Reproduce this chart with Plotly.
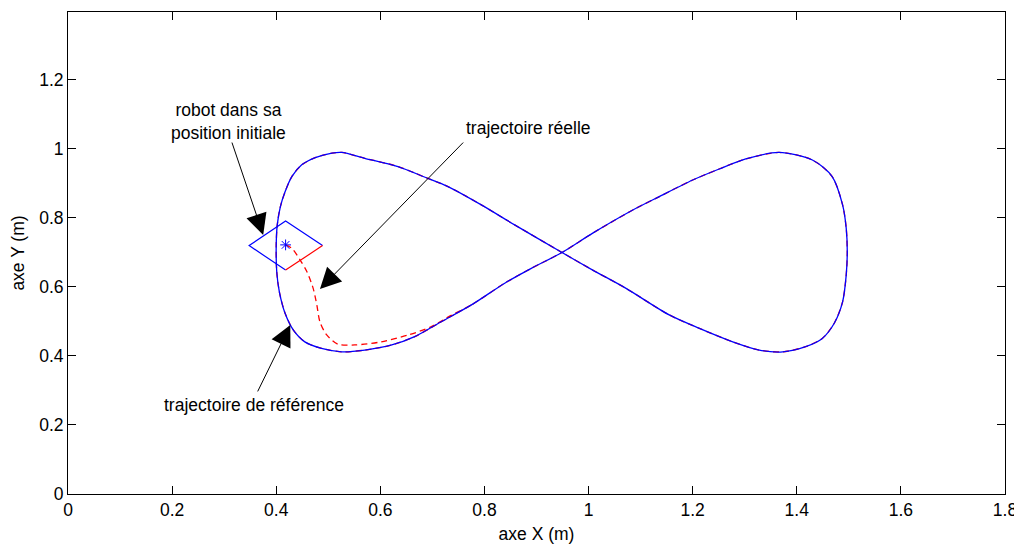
import plotly.graph_objects as go

# Reference trajectory (figure eight)
ref_x = [0.949, 0.858, 0.794, 0.730, 0.686, 0.634, 0.570, 0.526, 0.507, 0.475, 0.449, 0.430,
         0.417, 0.408, 0.402, 0.400, 0.401, 0.406, 0.417, 0.433, 0.455, 0.487, 0.526, 0.570,
         0.622, 0.666, 0.718, 0.775, 0.839, 0.890, 0.949, 1.008, 1.085, 1.136, 1.200, 1.251,
         1.302, 1.366, 1.430, 1.468, 1.488, 1.495, 1.497, 1.495, 1.488, 1.472, 1.449, 1.417,
         1.373, 1.328, 1.277, 1.213, 1.155, 1.072, 1.008, 0.949]
ref_y = [0.700, 0.780, 0.838, 0.891, 0.918, 0.949, 0.973, 0.990, 0.988, 0.975, 0.954, 0.920,
         0.876, 0.833, 0.780, 0.722, 0.644, 0.586, 0.524, 0.475, 0.441, 0.422, 0.412, 0.417,
         0.432, 0.456, 0.500, 0.548, 0.611, 0.654, 0.700, 0.756, 0.823, 0.862, 0.910, 0.942,
         0.971, 0.990, 0.968, 0.920, 0.838, 0.770, 0.702, 0.635, 0.557, 0.495, 0.451, 0.427,
         0.412, 0.417, 0.441, 0.480, 0.519, 0.596, 0.649, 0.700]

# Real trajectory: start from robot position, then joins the reference loop
start_x = [0.418, 0.430, 0.446, 0.459, 0.471, 0.478, 0.484, 0.497, 0.519, 0.551, 0.602,
           0.654, 0.698, 0.735]
start_y = [0.722, 0.712, 0.678, 0.644, 0.596, 0.548, 0.499, 0.461, 0.434, 0.432, 0.441,
           0.461, 0.485, 0.517]

# Robot body (diamond) vertices: left, top, right, bottom
robot_x = [0.348, 0.418, 0.489, 0.418]
robot_y = [0.720, 0.791, 0.720, 0.649]
robot_center = (0.418, 0.722)

x_ticks = [0, 0.2, 0.4, 0.6, 0.8, 1, 1.2, 1.4, 1.6, 1.8]
x_labels = ["0", "0.2", "0.4", "0.6", "0.8", "1", "1.2", "1.4", "1.6", "1.8"]
y_ticks = [0, 0.2, 0.4, 0.6, 0.8, 1, 1.2]
y_labels = ["0", "0.2", "0.4", "0.6", "0.8", "1", "1.2"]

FONT = "Liberation Sans, Arial, sans-serif"
BLUE = "#0000FF"
RED = "#FF0000"

# real trajectory: initial segment + loop from merge point (index 27) around and back
merge = 27
loop_x = ref_x[merge:-1] + ref_x[:merge + 1]
loop_y = ref_y[merge:-1] + ref_y[:merge + 1]
real_x = start_x + loop_x
real_y = start_y + loop_y

fig = go.Figure()
fig.add_trace(go.Scatter(x=real_x, y=real_y, mode="lines",
                         line=dict(color=RED, width=1.3, dash="6px,4px", shape="spline", smoothing=0.8),
                         showlegend=False, hoverinfo="skip"))
fig.add_trace(go.Scatter(x=ref_x, y=ref_y, mode="lines",
                         line=dict(color=BLUE, width=1.3, shape="spline", smoothing=0.8),
                         showlegend=False, hoverinfo="skip"))
# robot body: blue edges
fig.add_trace(go.Scatter(x=[robot_x[3], robot_x[0], robot_x[1], robot_x[2]],
                         y=[robot_y[3], robot_y[0], robot_y[1], robot_y[2]],
                         mode="lines", line=dict(color=BLUE, width=1.2),
                         showlegend=False, hoverinfo="skip"))
# robot front edge: red
fig.add_trace(go.Scatter(x=[robot_x[2], robot_x[3]], y=[robot_y[2], robot_y[3]],
                         mode="lines", line=dict(color=RED, width=1.2),
                         showlegend=False, hoverinfo="skip"))
fig.add_trace(go.Scatter(x=[robot_center[0]], y=[robot_center[1]], mode="markers",
                         marker=dict(symbol="asterisk-open", size=9, color=BLUE,
                                     line=dict(color=BLUE, width=1)),
                         showlegend=False, hoverinfo="skip"))

arrows = [
    # head (x, y), tail (ax, ay)
    (0.375, 0.751, 0.314, 1.023),
    (0.484, 0.594, 0.762, 1.023),
    (0.427, 0.490, 0.363, 0.293),
]
for hx, hy, tx, ty in arrows:
    fig.add_annotation(x=hx, y=hy, ax=tx, ay=ty, xref="x", yref="y", axref="x", ayref="y",
                       text="", showarrow=True, arrowhead=2, arrowsize=4.2, arrowwidth=1,
                       arrowcolor="black", standoff=0, startstandoff=0)

texts = [
    (0.308, 1.081, "robot dans sa<br>position initiale"),
    (0.885, 1.061, "trajectoire réelle"),
    (0.358, 0.258, "trajectoire de référence"),
]
for tx, ty, t in texts:
    fig.add_annotation(x=tx, y=ty, xref="x", yref="y", text=t, showarrow=False,
                       font=dict(family=FONT, size=17.5, color="black"),
                       xanchor="center", yanchor="middle", align="center")

axis_common = dict(showline=True, linecolor="black", linewidth=1, mirror="ticks",
                   ticks="inside", ticklen=8, tickcolor="black", showgrid=False,
                   zeroline=False, automargin=False,
                   tickfont=dict(family=FONT, size=17.5, color="black"))

fig.update_xaxes(range=[0, 1.8], tickvals=x_ticks, ticktext=x_labels,
                 title=dict(text="axe X (m)", font=dict(family=FONT, size=17.5, color="black"),
                            standoff=8),
                 **axis_common)
fig.update_yaxes(range=[0, 1.397], tickvals=y_ticks, ticktext=y_labels,
                 title=dict(text="axe Y (m)", font=dict(family=FONT, size=17.5, color="black"),
                            standoff=10),
                 **axis_common)

# page body has an 8px margin, so the figure is made 8px smaller on each side
fig.update_layout(width=1014, height=537, margin=dict(l=60, r=17, t=4, b=51),
                  paper_bgcolor="white", plot_bgcolor="white")

fig.write_html("out.html")
